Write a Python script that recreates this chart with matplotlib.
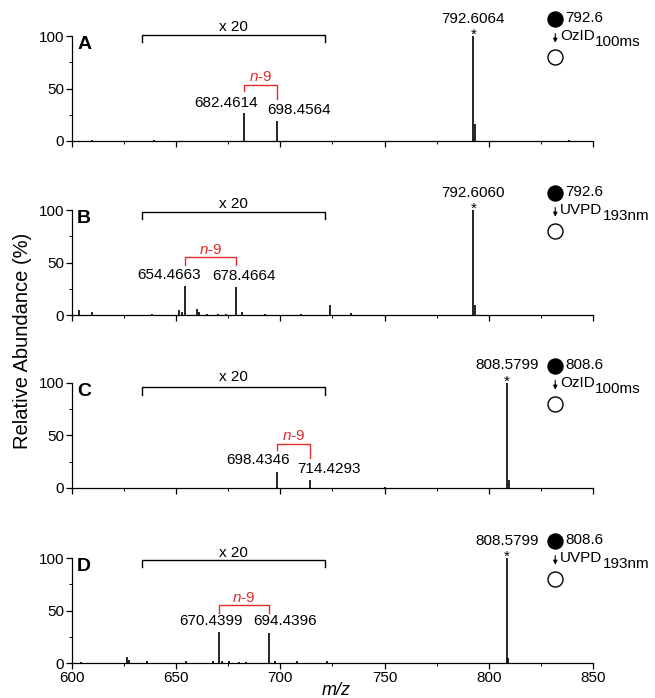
import matplotlib
matplotlib.use("Agg")
from matplotlib import pyplot as plt
from matplotlib.ticker import MultipleLocator

plt.rcParams['font.family'] = ['Liberation Sans', 'DejaVu Sans']
plt.rcParams['font.size'] = 11
plt.rcParams['mathtext.fontset'] = 'custom'
plt.rcParams['mathtext.rm'] = 'Liberation Sans'
plt.rcParams['mathtext.it'] = 'Liberation Sans:italic'

# ---- data (m/z, relative abundance as drawn) ----
mz_a = [609.5, 639.5, 682.4614, 698.4564, 792.6064, 793.6, 838.3]
int_a = [0.6, 0.8, 26.7, 19.5, 100, 16, 0.7]

mz_b = [603.6, 609.7, 638.3, 651.5, 652.6, 654.4663, 659.8, 660.8, 665.0, 670.0,
        674.0, 678.4664, 681.7, 692.8, 710.1, 723.8, 733.7, 792.6060, 793.6]
int_b = [4.5, 3.0, 1.0, 4.5, 2.5, 28, 6.0, 3.0, 1.0, 1.0,
         1.0, 27, 3.0, 1.0, 1.0, 10, 2.0, 100, 10]

mz_c = [698.4346, 714.4293, 750.0, 808.5799, 809.6]
int_c = [15.5, 7.6, 1.2, 100, 8]

mz_d = [604.4, 626.4, 627.2, 635.9, 654.5, 667.5, 672.0, 670.4399, 675.3, 680.0,
        683.5, 694.4396, 697.3, 707.9, 722.6, 808.5799, 809.3]
int_d = [1.0, 6.0, 2.5, 2.0, 2.0, 2.0, 2.0, 29.5, 1.5, 1.0,
         1.0, 28.6, 1.5, 1.5, 1.5, 100, 5]

panels = ['A', 'B', 'C', 'D']
spectra_mz = [mz_a, mz_b, mz_c, mz_d]
spectra_int = [int_a, int_b, int_c, int_d]
base_peak = [792.6064, 792.6060, 808.5799, 808.5799]
base_label = ['792.6064', '792.6060', '808.5799', '808.5799']
precursor = ['792.6', '792.6', '808.6', '808.6']
activation = ['OzID', 'UVPD', 'OzID', 'UVPD']
activation_sub = ['100ms', '193nm', '100ms', '193nm']
pair_mz = [(682.4614, 698.4564), (654.4663, 678.4664), (698.4346, 714.4293), (670.4399, 694.4396)]
pair_label = [('682.4614', '698.4564'), ('654.4663', '678.4664'),
              ('698.4346', '714.4293'), ('670.4399', '694.4396')]

# ---- layout of annotations per panel (label x, label y, bracket heights) ----
lab_x = [(673.7, 709.0), (646.6, 682.5), (689.2, 723.4), (666.8, 702.2)]
lab_y = [(29.5, 23.0), (31.4, 30.5), (20.0, 11.4), (33.3, 33.0)]
red_top = [53, 55, 42, 55.7]
red_legs = [(48, 40), (48, 48), (36, 28.5), (47.5, 47.5)]
red_text = [61, 62, 49.5, 62]
x20_top = [101, 98.5, 96, 98]
x20_text = [108.5, 106, 106, 105]
bottoms = [0.798, 0.5487, 0.3009, 0.0501]

fig = plt.figure(figsize=(6.55, 6.98), dpi=100)
red = '#e32b2b'

for i in range(4):
    ax = fig.add_axes([0.1099, bottoms[i], 0.7954, 0.1504])
    ax.vlines(spectra_mz[i], 0, spectra_int[i], color='k', lw=1.2)
    ax.set_xlim(600, 850)
    ax.set_ylim(0, 100)
    for s in ['top', 'right']:
        ax.spines[s].set_visible(False)
    for s in ['left', 'bottom']:
        ax.spines[s].set_linewidth(0.9)
    ax.xaxis.set_major_locator(MultipleLocator(50))
    ax.xaxis.set_minor_locator(MultipleLocator(25))
    ax.yaxis.set_major_locator(MultipleLocator(50))
    ax.yaxis.set_minor_locator(MultipleLocator(25))
    ax.tick_params(which='major', direction='out', length=4, width=0.9, labelsize=11, pad=1.5)
    ax.tick_params(which='minor', direction='out', length=2.5, width=0.7)
    if i < 3:
        ax.tick_params(axis='x', labelbottom=False)

    # panel letter
    ax.text(602.5, 100, panels[i], fontsize=14, fontweight='bold', va='top', ha='left')

    # x 20 bracket
    ax.plot([633.5, 633.5, 721.5, 721.5], [x20_top[i] - 7, x20_top[i], x20_top[i], x20_top[i] - 7],
            color='k', lw=1, clip_on=False)
    ax.text(677.5, x20_text[i], 'x 20', ha='center', va='center', fontsize=11)

    # n-9 bracket
    p1, p2 = pair_mz[i]
    ax.plot([p1, p1, p2, p2], [red_legs[i][0], red_top[i], red_top[i], red_legs[i][1]],
            color=red, lw=1, clip_on=False)
    ax.text((p1 + p2) / 2, red_text[i], r'$\mathit{n}$-9', color=red, ha='center', va='center', fontsize=11)

    # fragment labels
    for j in range(2):
        ax.text(lab_x[i][j], lab_y[i][j], pair_label[i][j], ha='center', va='bottom', fontsize=11)

    # precursor label
    ax.text(base_peak[i], 110, base_label[i], ha='center', va='bottom', fontsize=11, clip_on=False)
    ax.text(base_peak[i], 101, '*', ha='center', va='center', fontsize=11, clip_on=False)

    # scheme: filled circle -> open circle
    ax.plot(831.9, 116.5, 'o', ms=10.8, color='k', clip_on=False)
    ax.plot(831.9, 80, 'o', ms=10.8, mfc='white', mec='k', mew=1, clip_on=False)
    ax.annotate('', xy=(831.9, 91), xytext=(831.9, 105),
                arrowprops=dict(arrowstyle='-|>', color='k', lw=0.8, mutation_scale=6))
    ax.text(836.6, 117, precursor[i], ha='left', va='center', fontsize=11)
    t = ax.text(834.3, 100, activation[i], ha='left', va='center', fontsize=11)
    ax.annotate(activation_sub[i], xy=(1.0, 0.05), xycoords=t, ha='left', va='center', fontsize=11)

fig.text(0.034, 0.511, 'Relative Abundance (%)', rotation=90, ha='center', va='center', fontsize=14.5)
fig.text(0.514, 0.011, 'm/z', style='italic', ha='center', va='center', fontsize=13)

fig.savefig('out.png', dpi=100)
